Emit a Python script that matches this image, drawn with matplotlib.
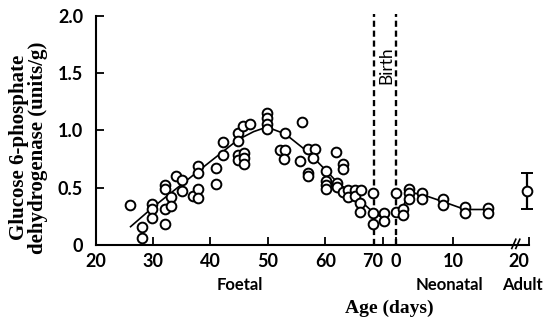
import matplotlib
matplotlib.use("Agg")
import matplotlib.pyplot as plt
import numpy as np

# ---- data ----
foetal_day = [26.0, 28.0, 28.0, 29.9, 29.9, 29.9, 32.1, 32.1, 32.1, 32.1, 33.1, 33.1,
              34.0, 35.0, 35.0, 36.9, 37.9, 37.9, 37.9, 37.9, 41.0, 41.0, 42.2, 42.2,
              44.8, 44.8, 44.8, 44.8, 45.7, 45.8, 45.8, 45.8, 46.9,
              49.8, 49.8, 49.8, 49.8,
              53.0, 55.9, 52.1, 53.0, 52.8, 55.6, 57.0, 58.1, 57.9, 57.0, 57.0,
              60.1, 60.1, 60.1, 60.1, 61.9, 63.1, 63.1, 62.0, 62.0, 63.0, 64.0, 64.0,
              65.1, 65.1, 66.1, 66.0, 66.0, 68.2, 68.2, 68.2, 70.1, 70.1]
foetal_g6pd = [0.35, 0.06, 0.16, 0.36, 0.31, 0.24, 0.52, 0.49, 0.31, 0.18, 0.42, 0.34,
               0.60, 0.57, 0.47, 0.43, 0.69, 0.63, 0.49, 0.41, 0.67, 0.53, 0.90, 0.79,
               0.98, 0.91, 0.79, 0.74, 1.04, 0.80, 0.76, 0.71, 1.06,
               1.15, 1.11, 1.06, 1.01,
               0.98, 1.07, 0.83, 0.83, 0.75, 0.73, 0.84, 0.84, 0.76, 0.63, 0.60,
               0.65, 0.56, 0.52, 0.49, 0.81, 0.71, 0.66, 0.54, 0.51, 0.46, 0.48, 0.42,
               0.48, 0.43, 0.48, 0.37, 0.29, 0.45, 0.28, 0.18, 0.28, 0.21]

foetal_fit_day = [26.1, 30, 35, 40, 44.8, 47.5, 49.8, 53, 57, 60.1, 62, 65.1, 68.2, 70.1]
foetal_fit_g6pd = [0.16, 0.33, 0.53, 0.73, 0.92, 0.99, 1.03, 0.97, 0.81, 0.65, 0.55, 0.43, 0.29, 0.23]

neo_day = [0.0, 0.0, 1.2, 1.2, 2.3, 2.3, 2.3, 4.6, 4.6, 8.1, 8.1, 12.0, 12.0, 16.0, 16.0]
neo_g6pd = [0.45, 0.29, 0.31, 0.26, 0.49, 0.45, 0.40, 0.45, 0.40, 0.40, 0.35, 0.33, 0.28, 0.32, 0.28]

neo_fit_day = [0.0, 1.2, 2.3, 4.6, 8.1, 12.0, 16.0]
neo_fit_g6pd = [0.28, 0.33, 0.46, 0.44, 0.38, 0.31, 0.31]

adult_mean = 0.47
adult_err = 0.16

birth_foetal_day = 68.4
x_ticks_foetal = [20, 30, 40, 50, 60, 70]
x_ticks_neo = [0, 10]
y_ticks = [0, 0.5, 1.0, 1.5, 2.0]
y_ticklabels = ["0", "0.5", "1.0", "1.5", "2.0"]

# ---- layout of the combined axis ----
NEO_OFFSET = 72.26     # position of neonatal day 0 on the axis
BREAK_POS = 93.1
ADULT_POS = 95.0
XMAX = 95.4

def neo_pos(d):
    return NEO_OFFSET + np.asarray(d, dtype=float)

fig = plt.figure(figsize=(5.54, 3.21), dpi=100)
ax = fig.add_axes([0.1724, 0.2368, 0.7825, 0.7134])

mk = dict(marker='o', ms=7.0, mfc='white', mec='black', mew=1.4, ls='none', zorder=3)
ax.plot(foetal_fit_day, foetal_fit_g6pd, color='black', lw=1.2, zorder=2)
ax.plot(neo_pos(neo_fit_day), neo_fit_g6pd, color='black', lw=1.2, zorder=2)
ax.plot(foetal_day, foetal_g6pd, **mk)
ax.plot(neo_pos(neo_day), neo_g6pd, **mk)
ax.errorbar([ADULT_POS], [adult_mean], yerr=[adult_err], fmt='o', ms=7.0, mfc='white',
            mec='black', mew=1.4, ecolor='black', elinewidth=1.6, capsize=4, capthick=1.6,
            clip_on=False, zorder=4)

# birth dashed lines
for xv in [birth_foetal_day, NEO_OFFSET]:
    ax.plot([xv, xv], [0, 2.02], color='black', lw=1.7, ls=(0, (2.6, 1.6)),
            clip_on=False, zorder=1)
ax.text((birth_foetal_day + NEO_OFFSET) / 2 + 0.3, 1.57, "Birth", rotation=90,
        ha='center', va='center', fontsize=12.5, family='Lato')

ax.set_xlim(20, XMAX)
ax.set_ylim(0, 2.0)

for s in ['top', 'right']:
    ax.spines[s].set_visible(False)
for s in ['left', 'bottom']:
    ax.spines[s].set_linewidth(1.5)

xt = list(x_ticks_foetal) + list(neo_pos(x_ticks_neo)) + [BREAK_POS + 0.6, XMAX]
xl = [str(v) for v in x_ticks_foetal] + [str(v) for v in x_ticks_neo] + ["20", ""]
ax.set_xticks(xt)
ax.set_xticklabels(xl)
ax.set_yticks(y_ticks)
ax.set_yticklabels(y_ticklabels)
ax.tick_params(direction='in', length=6, width=1.3, labelsize=13)
ax.tick_params(axis='x', pad=6)
ax.tick_params(axis='y', pad=9)
for lab in ax.get_xticklabels() + ax.get_yticklabels():
    lab.set_family('Lato')
    lab.set_fontweight('bold')
xlabs = ax.get_xticklabels()
xlabs[5].set_ha('right')
ticks = ax.xaxis.get_major_ticks()
ticks[-2].tick1line.set_visible(False)

# axis break marks
for dx in [-0.35, 0.35]:
    ax.plot([BREAK_POS + dx - 0.35, BREAK_POS + dx + 0.35], [-0.03, 0.05],
            color='black', lw=1.2, clip_on=False, zorder=5)

trans = ax.get_xaxis_transform()
ax.text(45.1, -0.175, "Foetal", transform=trans, ha='center', va='center',
        fontsize=12, family='Lato', fontweight='bold')
ax.text(81.6, -0.175, "Neonatal", transform=trans, ha='center', va='center',
        fontsize=12, family='Lato', fontweight='bold')
ax.text(94.2, -0.175, "Adult", transform=trans, ha='center', va='center',
        fontsize=12, family='Lato', fontweight='bold')

fig.text(0.702, 0.04, "Age (days)", ha='center', va='center', fontsize=14,
         family='Liberation Serif', fontweight='bold')
fig.text(0.052, 0.54, "Glucose 6-phosphate\ndehydrogenase (units/g)", rotation=90,
         ha='center', va='center', fontsize=15, family='Liberation Serif',
         fontweight='bold', linespacing=0.95)

fig.savefig("out.png", dpi=100)
